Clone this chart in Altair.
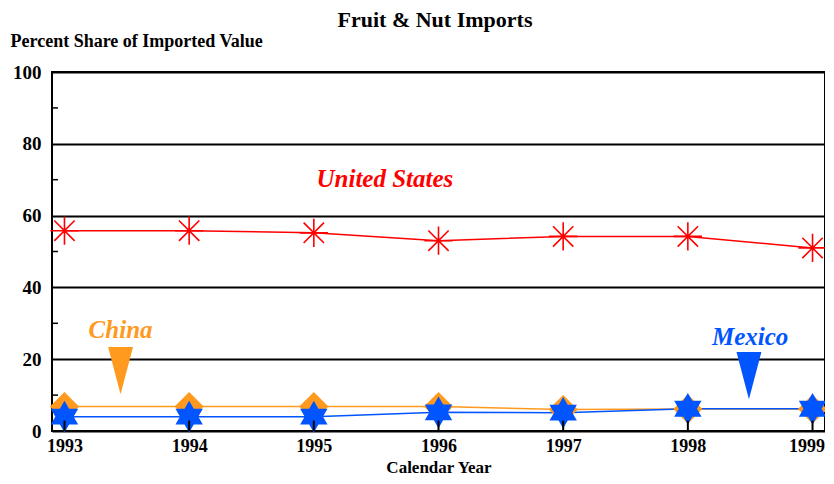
import altair as alt
import pandas as pd

# ---- data ----
years = [1993, 1994, 1995, 1996, 1997, 1998, 1999]
us_share = [55.8, 55.8, 55.2, 53.0, 54.2, 54.2, 51.0]
china_share = [6.8, 6.8, 6.8, 6.8, 6.0, 6.1, 6.1]
mexico_share = [4.0, 4.0, 4.0, 5.2, 5.1, 6.2, 6.2]

countries = ["United States", "China", "Mexico"]
colors = ["#FF0000", "#FF9A1E", "#0055FF"]

label_x = [1995.57, 1993.45, 1998.5]
label_y = [70.2, 28.1, 26.2]

arrow_country = ["China", "Mexico"]
arrow_x = [1993.45, 1998.49]
arrow_y = [23.4, 22.0]

minor_ticks = [10, 30, 50, 70, 90]
tick_len = 2.9

FONT = "Liberation Serif"

# ---- tables ----
lines_df = pd.DataFrame({
    "year": years * 3,
    "share": us_share + china_share + mexico_share,
    "country": ["United States"] * 7 + ["China"] * 7 + ["Mexico"] * 7,
})
us_df = lines_df[lines_df.country == "United States"]
china_df = lines_df[lines_df.country == "China"]
mexico_df = lines_df[lines_df.country == "Mexico"]
labels_df = pd.DataFrame({"country": countries, "year": label_x, "share": label_y})
arrows_df = pd.DataFrame({"country": arrow_country, "year": arrow_x, "share": arrow_y})
years_df = pd.DataFrame({"year": years, "share": [0] * len(years), "share2": [tick_len] * len(years)})
minor_df = pd.DataFrame({"share": minor_ticks})
title_df = pd.DataFrame({"t": ["Fruit & Nut Imports"]})

xscale = alt.Scale(domain=[1992.9, 1999.1], nice=False, zero=False)
yscale = alt.Scale(domain=[0, 100], nice=False)
cscale = alt.Scale(domain=countries, range=colors)

x_axis = alt.Axis(values=years, format="d", grid=False, ticks=False, domain=False,
                  labelFont=FONT, labelFontSize=18, labelFontWeight="bold", labelColor="black",
                  labelPadding=6, labelFlush=False,
                  labelAlign=alt.ExprRef(expr="datum.value == 1999 ? 'right' : 'center'"),
                  labelOffset=alt.ExprRef(expr="datum.value == 1999 ? 12 : 0"),
                  title="Calendar Year", titleFont=FONT, titleFontSize=17, titleFontWeight="bold",
                  titleColor="black", titleBaseline="alphabetic", titleY=41)
y_axis = alt.Axis(values=[0, 20, 40, 60, 80, 100], grid=True, gridColor="black", gridWidth=2,
                  gridOpacity=1, ticks=False, domain=False,
                  labelFont=FONT, labelFontSize=19, labelFontWeight="bold", labelColor="black",
                  labelPadding=11,
                  title="Percent Share of Imported Value", titleFont=FONT, titleFontSize=18,
                  titleFontWeight="bold", titleColor="black", titleAngle=0, titleAlign="left",
                  titleBaseline="alphabetic", titleX=-42, titleY=-26)

X = alt.X("year:Q", scale=xscale, axis=x_axis)
Y = alt.Y("share:Q", scale=yscale, axis=y_axis)
C = alt.Color("country:N", scale=cscale, legend=None)

lines = alt.Chart(lines_df).mark_line(strokeWidth=1.5).encode(x=X, y=Y, color=C, detail="country:N")

asterisk = "M-1,0L1,0M0,-1L0,1M-0.72,-0.72L0.72,0.72M-0.72,0.72L0.72,-0.72"
hexagram = "M0,-1L0.866,0.5L-0.866,0.5ZM0,1L-0.866,-0.5L0.866,-0.5Z"
arrow = "M-1,0L1,0L0,3.8Z"

us_pts = alt.Chart(us_df).mark_point(shape=asterisk, size=800, filled=False,
                                     strokeWidth=1.6, opacity=1).encode(x=X, y=Y, color=C)
china_pts = alt.Chart(china_df).mark_point(shape="diamond", size=850, filled=True,
                                           opacity=1).encode(x=X, y=Y, color=C)
mexico_pts = alt.Chart(mexico_df).mark_point(shape=hexagram, size=1000, filled=True,
                                             opacity=1).encode(x=X, y=Y, color=C)

year_ticks = alt.Chart(years_df).mark_rule(color="black", strokeWidth=2).encode(
    x=X, y=Y, y2="share2:Q")

minor = alt.Chart(minor_df).mark_rule(color="black", strokeWidth=1.5).encode(
    y=Y, x=alt.value(0), x2=alt.value(6))

labels = alt.Chart(labels_df).mark_text(font=FONT, fontSize=25, fontWeight="bold",
                                        fontStyle="italic", baseline="middle").encode(
    x=X, y=Y, text="country:N", color=C)

arrows = alt.Chart(arrows_df).mark_point(shape=arrow, size=620, filled=True, opacity=1).encode(
    x=X, y=Y, color=C)

title = alt.Chart(title_df).mark_text(font=FONT, fontSize=22, fontWeight="bold", color="black",
                                      baseline="alphabetic", align="center").encode(
    text="t:N", x=alt.value(383), y=alt.value(-45))

chart = alt.layer(
    lines, china_pts, mexico_pts, us_pts, year_ticks, minor, labels, arrows, title
).properties(
    width=773, height=359,
    background="white",
    autosize=alt.AutoSizeParams(type="none"),
    padding={"left": 44, "top": 64, "right": 0, "bottom": 45},
).configure_view(stroke="black", strokeWidth=2)

chart.save("out.html", embed_options={"renderer": "svg", "actions": False})
